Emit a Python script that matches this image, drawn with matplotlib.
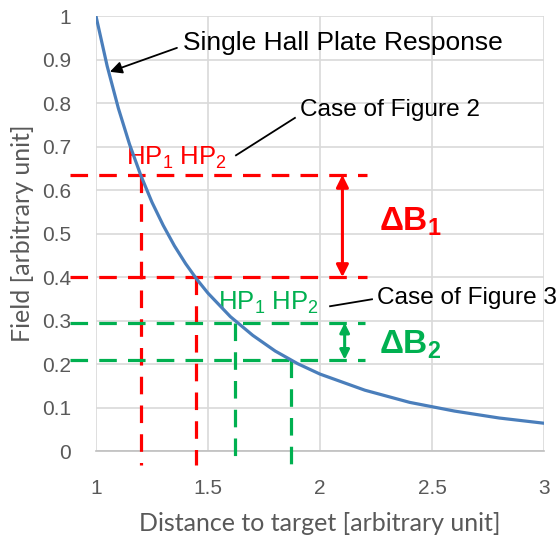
import matplotlib.pyplot as plt

# Field response of a single Hall plate vs distance
distance = [1.0, 1.05, 1.1, 1.15, 1.2, 1.25, 1.3, 1.35, 1.4, 1.45, 1.5, 1.6, 1.7,
            1.8, 1.9, 2.0, 2.2, 2.4, 2.6, 2.8, 3.0]
field = [1.0, 0.885, 0.788, 0.705, 0.634, 0.572, 0.519, 0.472, 0.431, 0.395, 0.363,
         0.309, 0.266, 0.230, 0.201, 0.177, 0.140, 0.112, 0.092, 0.076, 0.064]

# Hall plate positions and field levels for the two cases
case2_x = [1.20, 1.446]
case2_y = [0.635, 0.40]
case3_x = [1.62, 1.87]
case3_y = [0.295, 0.21]

x_ticks = [1, 1.5, 2, 2.5, 3]
x_tick_labels = ['1', '1.5', '2', '2.5', '3']
y_ticks = [0, 0.1, 0.2, 0.3, 0.4, 0.5, 0.6, 0.7, 0.8, 0.9, 1]
y_tick_labels = ['0', '0.1', '0.2', '0.3', '0.4', '0.5', '0.6', '0.7', '0.8', '0.9', '1']

RED = '#ff0000'
GREEN = '#00b050'
BLUE = '#4a7ebb'
GREY = '#595959'

plt.rcParams['font.family'] = ['Liberation Sans', 'DejaVu Sans']
plt.rcParams['mathtext.fontset'] = 'custom'
plt.rcParams['mathtext.rm'] = 'Liberation Sans'
plt.rcParams['mathtext.bf'] = 'Liberation Sans:bold'

fig = plt.figure(figsize=(5.58, 5.37), dpi=100)
ax = fig.add_axes([0.172, 0.160, 0.803, 0.810])

ax.set_xlim(1, 3)
ax.set_ylim(0, 1)
ax.set_xticks(x_ticks)
ax.set_xticklabels(x_tick_labels)
ax.set_yticks(y_ticks)
ax.set_yticklabels(y_tick_labels)
ax.grid(True, color='#d9d9d9', linewidth=1.2)
ax.set_axisbelow(True)
for side in ['top', 'right', 'left']:
    ax.spines[side].set_visible(False)
ax.spines['bottom'].set_color('#bfbfbf')
ax.spines['bottom'].set_linewidth(1.2)
ax.tick_params(length=0, labelsize=15, colors=GREY)
ax.tick_params(axis='x', pad=20)
ax.tick_params(axis='y', pad=18)

ax.set_xlabel('Distance to target [arbitrary unit]', fontsize=18, color=GREY,
              family='Lato', labelpad=10)
ax.set_ylabel('Field [arbitrary unit]', fontsize=18, color=GREY,
              family='Lato', labelpad=6)

dash = dict(linewidth=2.3, dashes=(5.5, 3.5), clip_on=False, zorder=3)

# horizontal and vertical guides, case of figure 2
for yv in case2_y:
    ax.plot([0.885, 2.21], [yv, yv], color=RED, **dash)
for xv, yv in zip(case2_x, case2_y):
    ax.plot([xv, xv], [yv, -0.032], color=RED, **dash)

# guides, case of figure 3
for yv in case3_y:
    ax.plot([0.885, 2.20], [yv, yv], color=GREEN, **dash)
for xv, yv in zip(case3_x, case3_y):
    ax.plot([xv, xv], [yv, -0.032], color=GREEN, **dash)

ax.plot(distance, field, color=BLUE, linewidth=2.3, zorder=4)

# delta-B arrows
ax.annotate('', xy=(2.10, case2_y[1]), xytext=(2.10, case2_y[0]),
            arrowprops=dict(arrowstyle='<|-|>', color=RED, lw=2.2,
                            mutation_scale=18, shrinkA=0, shrinkB=0))
ax.annotate('', xy=(2.11, case3_y[1]), xytext=(2.11, case3_y[0]),
            arrowprops=dict(arrowstyle='<|-|>', color=GREEN, lw=2.2,
                            mutation_scale=14, shrinkA=0, shrinkB=0))
ax.text(2.265, 0.526, r'$\mathbf{\Delta B_1}$', color=RED, fontsize=24,
        va='center', ha='left')
ax.text(2.265, 0.244, r'$\mathbf{\Delta B_2}$', color=GREEN, fontsize=24,
        va='center', ha='left')

hp_label = r'HP$_\mathregular{1}$ HP$_\mathregular{2}$'
ax.text(1.135, 0.674, hp_label, color=RED, fontsize=18.5, va='center', ha='left')
ax.text(1.546, 0.340, hp_label, color=GREEN, fontsize=18.5, va='center', ha='left')

# callouts
ax.annotate('Single Hall Plate Response', xy=(1.062, 0.872), xytext=(1.39, 0.938),
            fontsize=19, va='center', ha='left',
            arrowprops=dict(arrowstyle='-|>', color='black', lw=1.3,
                            mutation_scale=18, shrinkA=0, shrinkB=0,
                            relpos=(-0.02, 0.3)))
ax.plot([1.625, 1.888], [0.680, 0.766], color='black', linewidth=1.3, zorder=5)
ax.text(1.911, 0.784, 'Case of Figure 2', fontsize=17.6, va='center', ha='left')
ax.plot([2.045, 2.232], [0.333, 0.349], color='black', linewidth=1.3, zorder=5)
ax.text(2.254, 0.352, 'Case of Figure 3', fontsize=17.6, va='center', ha='left')

fig.savefig('out.png', dpi=100)
